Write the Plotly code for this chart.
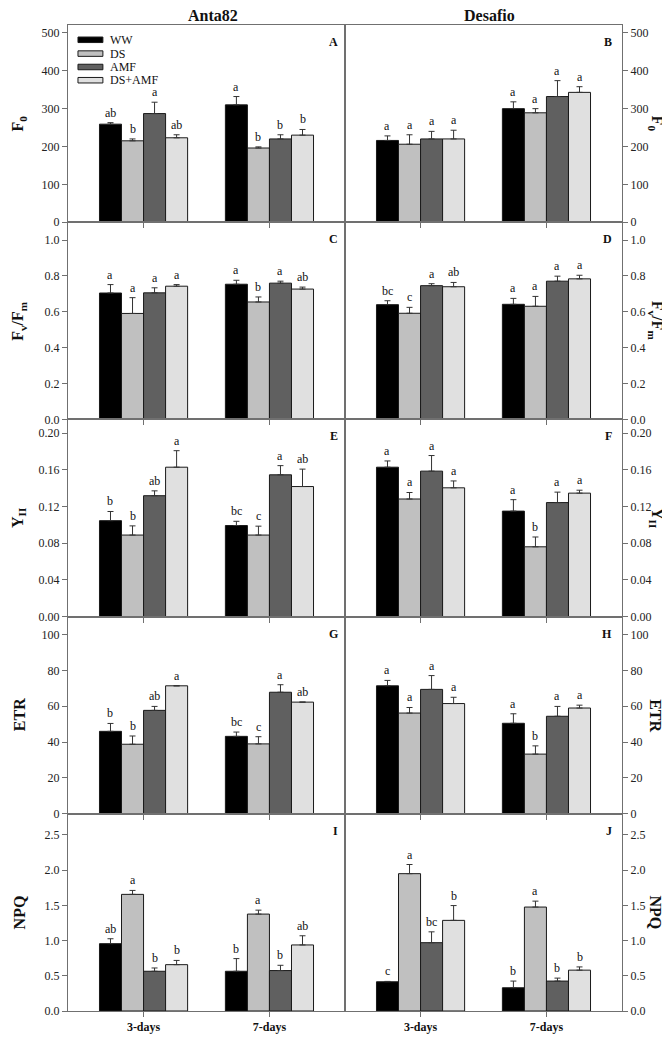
import plotly.graph_objects as go
from plotly.subplots import make_subplots

DAYS = ["3-days", "7-days"]
TREATMENTS = ["WW", "DS", "AMF", "DS+AMF"]
CULTIVARS = ["Anta82", "Desafio"]
COLORS = ["#000000", "#c0c0c0", "#606060", "#e0e0e0"]

# rows = treatments (WW, DS, AMF, DS+AMF); columns = days (3, 7)
F0_ANTA_MEAN = [[259, 310], [215, 196], [287, 220], [223, 230]]
F0_ANTA_ERR = [[4, 22], [5, 3], [30, 11], [8, 15]]
F0_ANTA_LET = [["ab", "a"], ["b", "b"], ["a", "b"], ["ab", "b"]]

F0_DES_MEAN = [[216, 300], [206, 289], [220, 332], [220, 343]]
F0_DES_ERR = [[12, 18], [25, 11], [20, 42], [23, 15]]
F0_DES_LET = [["a", "a"], ["a", "a"], ["a", "a"], ["a", "a"]]

FVFM_ANTA_MEAN = [[0.705, 0.754], [0.591, 0.655], [0.706, 0.760], [0.743, 0.727]]
FVFM_ANTA_ERR = [[0.047, 0.022], [0.088, 0.028], [0.028, 0.011], [0.009, 0.011]]
FVFM_ANTA_LET = [["a", "a"], ["a", "b"], ["a", "a"], ["a", "ab"]]

FVFM_DES_MEAN = [[0.640, 0.642], [0.592, 0.631], [0.746, 0.771], [0.740, 0.784]]
FVFM_DES_ERR = [[0.022, 0.033], [0.033, 0.055], [0.011, 0.028], [0.024, 0.020]]
FVFM_DES_LET = [["bc", "a"], ["c", "a"], ["a", "a"], ["ab", "a"]]

YII_ANTA_MEAN = [[0.1046, 0.0993], [0.0889, 0.0889], [0.1318, 0.1546], [0.1629, 0.1418]]
YII_ANTA_ERR = [[0.010, 0.0046], [0.010, 0.0097], [0.0053, 0.010], [0.018, 0.019]]
YII_ANTA_LET = [["b", "bc"], ["b", "c"], ["ab", "a"], ["a", "ab"]]

YII_DES_MEAN = [[0.1629, 0.115], [0.1282, 0.0761], [0.1586, 0.1243], [0.1404, 0.1346]]
YII_DES_ERR = [[0.0068, 0.0125], [0.0071, 0.0107], [0.017, 0.0114], [0.0075, 0.0032]]
YII_DES_LET = [["a", "a"], ["a", "b"], ["a", "a"], ["a", "a"]]

ETR_ANTA_MEAN = [[46.0, 43.2], [38.8, 39.0], [57.7, 67.8], [71.4, 62.3]]
ETR_ANTA_ERR = [[4.4, 2.4], [4.6, 4.0], [2.2, 4.2], [0.0, 0.0]]
ETR_ANTA_LET = [["b", "bc"], ["b", "c"], ["ab", "a"], ["a", "ab"]]

ETR_DES_MEAN = [[71.4, 50.5], [56.2, 33.3], [69.4, 54.4], [61.5, 59.0]]
ETR_DES_ERR = [[3.0, 5.3], [3.1, 4.6], [7.7, 5.5], [3.5, 1.6]]
ETR_DES_LET = [["a", "a"], ["a", "b"], ["a", "a"], ["a", "a"]]

NPQ_ANTA_MEAN = [[0.956, 0.564], [1.656, 1.376], [0.564, 0.574], [0.658, 0.938]]
NPQ_ANTA_ERR = [[0.07, 0.18], [0.056, 0.056], [0.047, 0.075], [0.06, 0.13]]
NPQ_ANTA_LET = [["ab", "b"], ["a", "a"], ["b", "b"], ["b", "ab"]]

NPQ_DES_MEAN = [[0.415, 0.33], [1.95, 1.476], [0.97, 0.425], [1.287, 0.58]]
NPQ_DES_ERR = [[0.005, 0.095], [0.13, 0.084], [0.154, 0.042], [0.21, 0.046]]
NPQ_DES_LET = [["c", "b"], ["a", "a"], ["bc", "b"], ["b", "b"]]

Y_TITLES = ["F<sub>0</sub>", "F<sub>v</sub>/F<sub>m</sub>", "Y<sub>II</sub>", "ETR", "NPQ"]
Y_RANGES = [[0, 521], [0, 1.1], [0, 0.215], [0, 110], [0, 2.8]]
Y_DTICK = [100, 0.2, 0.04, 20, 0.5]
Y_FMT = ["d", ".1f", ".2f", "d", ".1f"]
PANEL_LETTERS = [["A", "B"], ["C", "D"], ["E", "F"], ["G", "H"], ["I", "J"]]

PANELS = [
    [(F0_ANTA_MEAN, F0_ANTA_ERR, F0_ANTA_LET), (F0_DES_MEAN, F0_DES_ERR, F0_DES_LET)],
    [(FVFM_ANTA_MEAN, FVFM_ANTA_ERR, FVFM_ANTA_LET), (FVFM_DES_MEAN, FVFM_DES_ERR, FVFM_DES_LET)],
    [(YII_ANTA_MEAN, YII_ANTA_ERR, YII_ANTA_LET), (YII_DES_MEAN, YII_DES_ERR, YII_DES_LET)],
    [(ETR_ANTA_MEAN, ETR_ANTA_ERR, ETR_ANTA_LET), (ETR_DES_MEAN, ETR_DES_ERR, ETR_DES_LET)],
    [(NPQ_ANTA_MEAN, NPQ_ANTA_ERR, NPQ_ANTA_LET), (NPQ_DES_MEAN, NPQ_DES_ERR, NPQ_DES_LET)],
]

FONT = "Liberation Serif, Times New Roman, serif"
AXCOL = "#707070"
BARGAP = 0.3
NT = len(TREATMENTS)
BW = (1 - BARGAP) / NT
XPOS = list(range(len(DAYS)))

fig = make_subplots(rows=5, cols=2, horizontal_spacing=0, vertical_spacing=0)

annotations = []
for r in range(5):
    for c in range(2):
        idx = r * 2 + c + 1
        sfx = "" if idx == 1 else str(idx)
        mean, err, lets = PANELS[r][c]
        for i, t in enumerate(TREATMENTS):
            fig.add_trace(
                go.Bar(
                    x=XPOS,
                    y=mean[i],
                    name=t,
                    showlegend=False,
                    marker=dict(color=COLORS[i], line=dict(color="#1a1a1a", width=1)),
                    error_y=dict(type="data", symmetric=False, array=err[i],
                                 arrayminus=[0] * len(DAYS), color="#333333",
                                 thickness=1, width=3),
                ),
                row=r + 1, col=c + 1,
            )
            off = -(1 - BARGAP) / 2 + BW * (i + 0.5)
            for k in XPOS:
                annotations.append(dict(
                    x=k + off, y=mean[i][k] + err[i][k], xref="x" + sfx, yref="y" + sfx,
                    text=lets[i][k], showarrow=False, yanchor="bottom", yshift=1,
                    font=dict(family=FONT, size=12, color="#111"),
                ))
        # panel letter
        annotations.append(dict(
            x=1, y=1, xref="x%s domain" % sfx, yref="y%s domain" % sfx,
            text="<b>%s</b>" % PANEL_LETTERS[r][c], showarrow=False,
            xanchor="right", yanchor="top", xshift=-5 if c == 0 else -8, yshift=-8,
            font=dict(family=FONT, size=12, color="#111"),
        ))
        # y title
        annotations.append(dict(
            x=0 if c == 0 else 1, y=0.5, xref="x%s domain" % sfx, yref="y%s domain" % sfx,
            text="<b>%s</b>" % Y_TITLES[r], showarrow=False,
            textangle=-90 if c == 0 else 90, xanchor="center", yanchor="middle",
            xshift=-49 if c == 0 else 34,
            font=dict(family=FONT, size=16, color="#111"),
        ))
        fig.update_xaxes(
            row=r + 1, col=c + 1, range=[-0.6, 1.6], tickvals=XPOS,
            ticktext=["<b>%s</b>" % d for d in DAYS], showticklabels=(r == 4),
            ticks="outside", ticklen=5, tickcolor=AXCOL, showline=True, mirror=True,
            linecolor=AXCOL, linewidth=1, showgrid=False, zeroline=False,
            tickfont=dict(family=FONT, size=12, color="#111"),
        )
        fig.update_yaxes(
            row=r + 1, col=c + 1, range=Y_RANGES[r], dtick=Y_DTICK[r], tick0=0,
            tickformat=Y_FMT[r], side="left" if c == 0 else "right",
            ticks="outside", ticklen=5, tickcolor=AXCOL, showline=True, mirror=True,
            linecolor=AXCOL, linewidth=1, showgrid=False, zeroline=False,
            tickfont=dict(family=FONT, size=12, color="#222"),
        )

# column titles
for c, name in enumerate(CULTIVARS):
    sfx = "" if c == 0 else "2"
    annotations.append(dict(
        x=0.5, y=1, xref="x%s domain" % sfx, yref="y%s domain" % sfx,
        text="<b>%s</b>" % name, showarrow=False, xanchor="center", yanchor="bottom",
        xshift=6, yshift=-1, font=dict(family=FONT, size=16, color="#111"),
    ))

# legend (drawn in panel A)
shapes = []
LEG_Y = [0.925, 0.855, 0.787, 0.72]
for i, t in enumerate(TREATMENTS):
    shapes.append(dict(
        type="rect", xref="x domain", yref="y domain",
        x0=0.036, x1=0.126, y0=LEG_Y[i] - 0.014, y1=LEG_Y[i] + 0.014,
        fillcolor=COLORS[i], line=dict(color="#1a1a1a", width=1),
    ))
    annotations.append(dict(
        x=0.145, y=LEG_Y[i], xref="x domain", yref="y domain", text=t,
        showarrow=False, xanchor="left", yanchor="middle",
        font=dict(family=FONT, size=12, color="#111"),
    ))

fig.update_layout(
    width=670, height=1038,
    margin=dict(l=60, r=56, t=17, b=20),
    barmode="group", bargap=BARGAP, bargroupgap=0,
    plot_bgcolor="white", paper_bgcolor="white",
    font=dict(family=FONT, size=12, color="#111"),
    annotations=annotations, shapes=shapes, showlegend=False,
)

fig.write_html("out.html")
